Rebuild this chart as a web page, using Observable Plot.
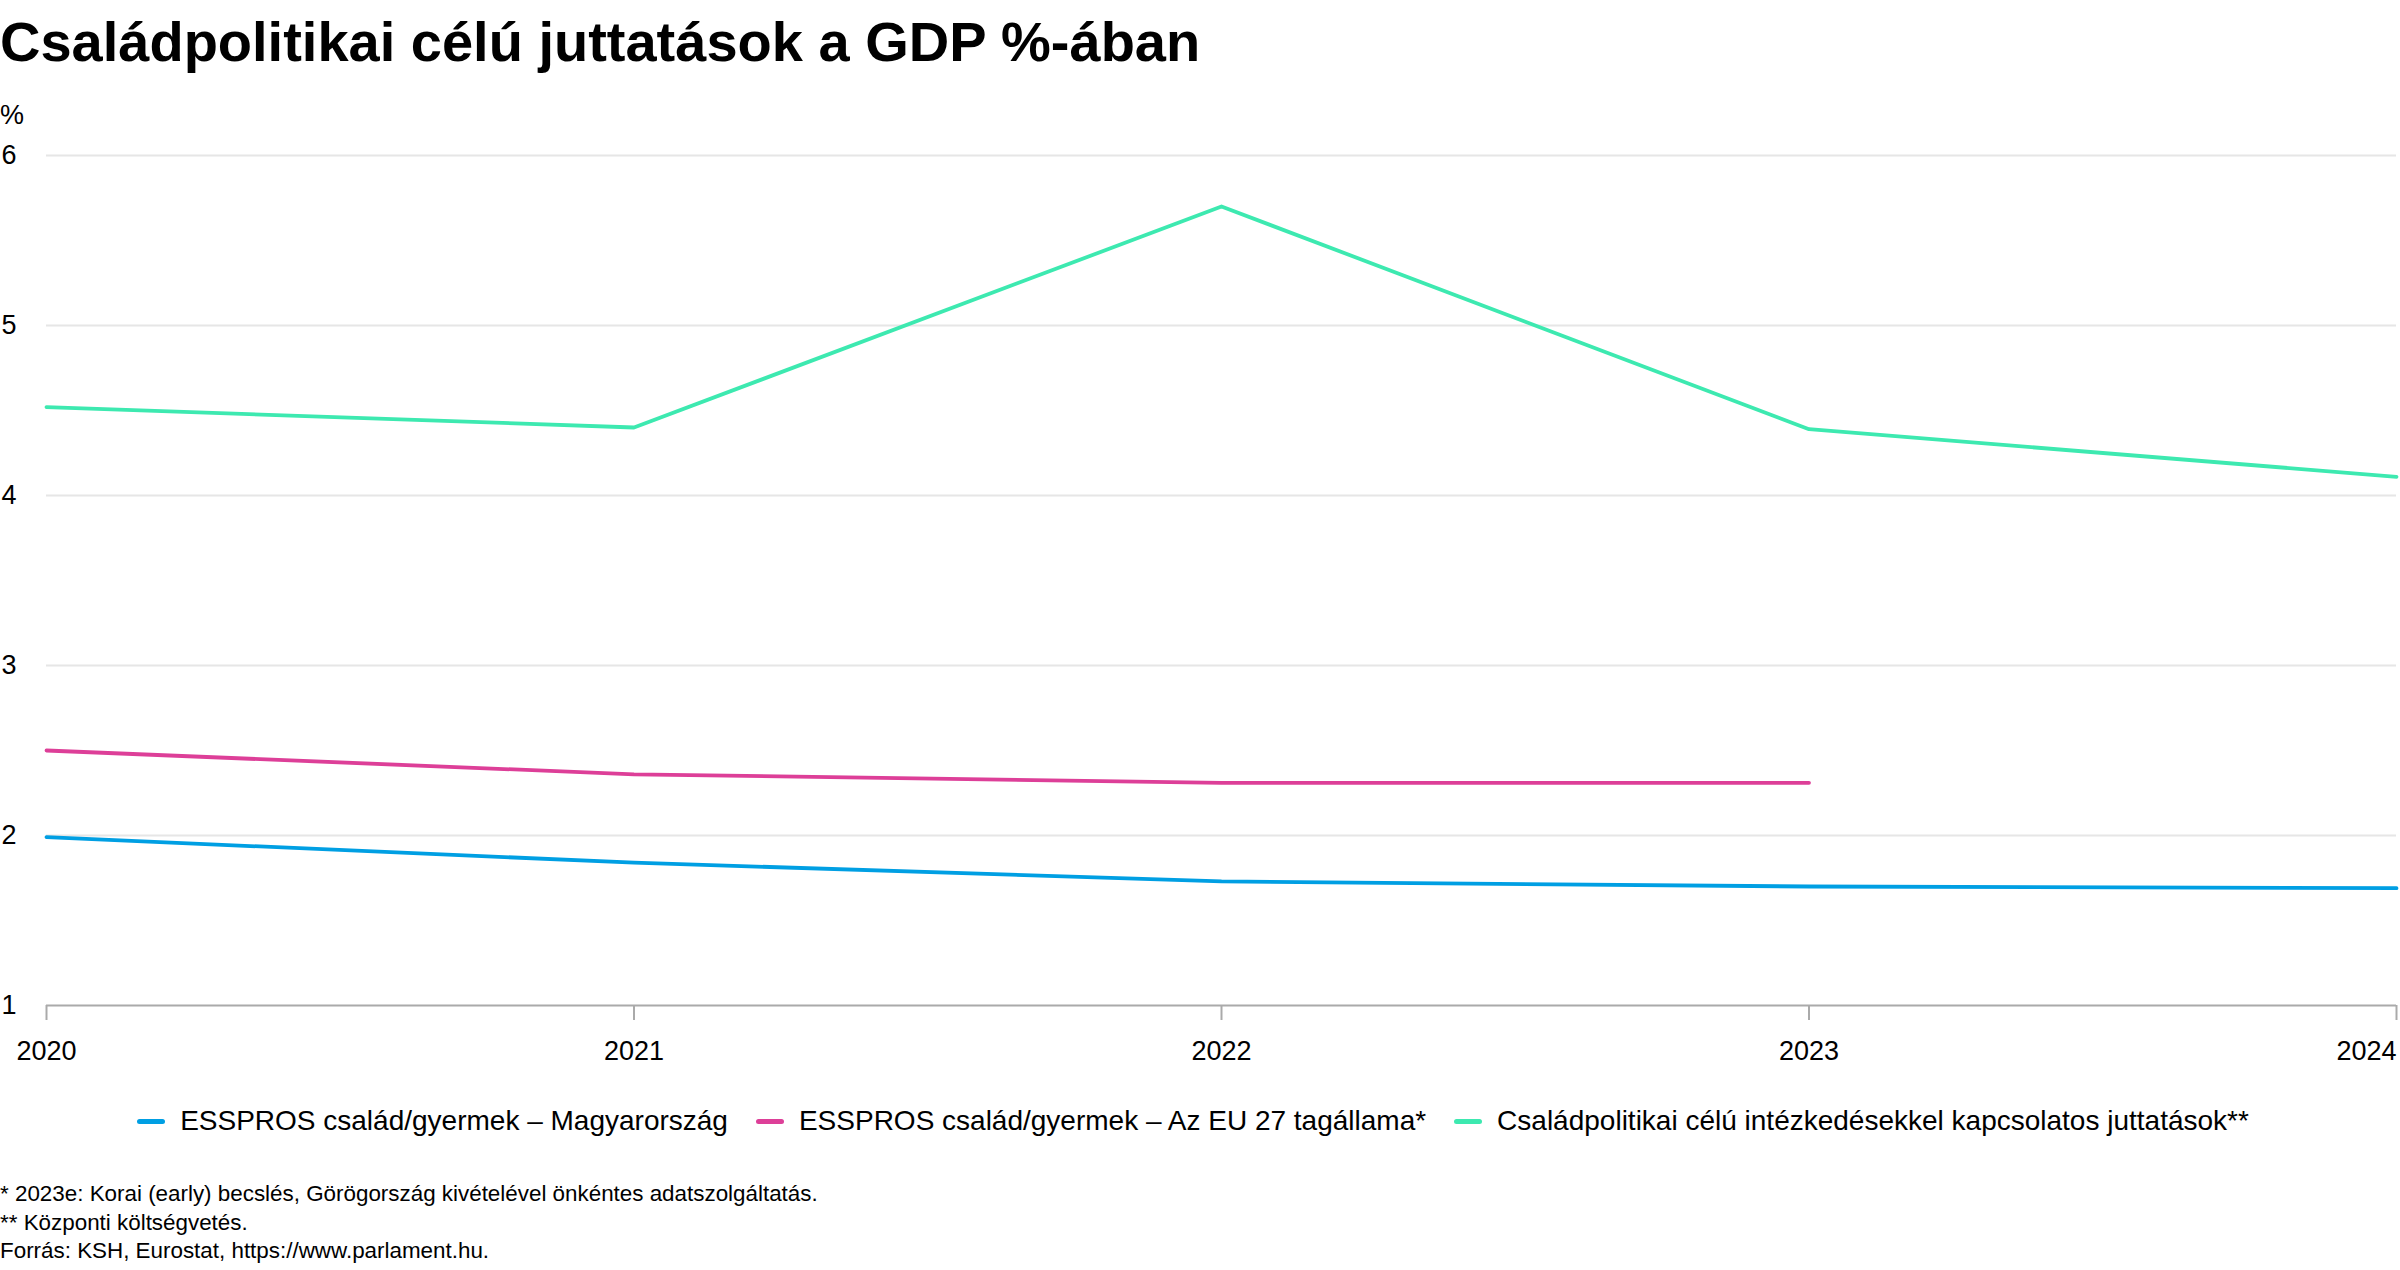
<!DOCTYPE html>
<html lang="hu">
<head>
<meta charset="utf-8">
<script src="https://cdn.jsdelivr.net/npm/d3@7"></script>
<script src="https://cdn.jsdelivr.net/npm/@observablehq/plot@0.6"></script>
<style>
  html, body { margin: 0; padding: 0; background: #fff; }
  body { width: 2400px; font-family: "Liberation Sans", Arial, sans-serif; color: #000; }
  #title { font-size: 56px; font-weight: bold; line-height: 64px; padding-top: 10px; height: 64px; white-space: nowrap; }
  #unit { font-size: 27px; line-height: 30px; height: 30px; margin-top: 26px; }
  #chart svg { display: block; }
  #legend { display: flex; justify-content: center; align-items: center; gap: 28px; font-size: 28px; line-height: 32px; height: 32px; margin-top: 30px; padding-right: 14px; }
  .item { display: flex; align-items: center; gap: 15px; white-space: nowrap; }
  .sw { width: 28px; height: 5px; border-radius: 3px; display: inline-block; }
  #notes { font-size: 22.4px; line-height: 28.5px; margin-top: 43px; }
</style>
</head>
<body>
<div id="title"></div>
<div id="unit"></div>
<div id="chart"></div>
<div id="legend"></div>
<div id="notes"></div>
<script>
const titleText = "Családpolitikai célú juttatások a GDP %-ában";
const unitText = "%";
const years = [2020, 2021, 2022, 2023, 2024];
const yTicks = [1, 2, 3, 4, 5, 6];
const seriesNames = [
  "ESSPROS család/gyermek – Magyarország",
  "ESSPROS család/gyermek – Az EU 27 tagállama*",
  "Családpolitikai célú intézkedésekkel kapcsolatos juttatások**"
];
const seriesColors = ["#009fe3", "#dd3f98", "#3de9b0"];
const huValues = [1.99, 1.84, 1.73, 1.70, 1.69];
const euYears = [2020, 2021, 2022, 2023];
const euValues = [2.50, 2.36, 2.31, 2.31];
const cpValues = [4.52, 4.40, 5.70, 4.39, 4.11];
const notes = [
  "* 2023e: Korai (early) becslés, Görögország kivételével önkéntes adatszolgáltatás.",
  "** Központi költségvetés.",
  "Forrás: KSH, Eurostat, https://www.parlament.hu."
];

const data = [
  ...years.map((yr, i) => ({year: yr, value: huValues[i], series: seriesNames[0]})),
  ...euYears.map((yr, i) => ({year: yr, value: euValues[i], series: seriesNames[1]})),
  ...years.map((yr, i) => ({year: yr, value: cpValues[i], series: seriesNames[2]}))
];

document.getElementById("title").textContent = titleText;
document.getElementById("unit").textContent = unitText;

const chart = Plot.plot({
  width: 2400,
  height: 945,
  marginTop: 25,
  marginBottom: 70,
  marginLeft: 46,
  marginRight: 4,
  style: {fontFamily: '"Liberation Sans", Arial, sans-serif', fontSize: "27px", color: "#000", background: "#fff"},
  x: {type: "linear", domain: [2020, 2024]},
  y: {domain: [1, 6]},
  color: {domain: seriesNames, range: seriesColors},
  marks: [
    Plot.gridY(yTicks.slice(1), {stroke: "#e6e6e6", strokeOpacity: 1, strokeWidth: 2}),
    Plot.axisY(yTicks, {tickSize: 0, tickPadding: 45, textAnchor: "start", tickFormat: d => String(d), label: null, fill: "#000"}),
    Plot.ruleY([1], {stroke: "#aaaaaa", strokeWidth: 2}),
    Plot.axisX(years.slice(0, 4), {tickSize: 15, tickPadding: 20, stroke: "#aaaaaa", strokeWidth: 2, tickFormat: d => String(d), label: null, fill: "#000"}),
    Plot.axisX(years.slice(4), {tickSize: 15, tickPadding: 20, stroke: "#aaaaaa", strokeWidth: 2, tickFormat: d => String(d), textAnchor: "end", label: null, fill: "#000"}),
    Plot.line(data, {x: "year", y: "value", z: "series", stroke: "series", strokeWidth: 3.8})
  ]
});
document.getElementById("chart").appendChild(chart);

const legend = document.getElementById("legend");
seriesNames.forEach((name, i) => {
  const item = document.createElement("div");
  item.className = "item";
  const sw = document.createElement("span");
  sw.className = "sw";
  sw.style.background = seriesColors[i];
  const label = document.createElement("span");
  label.textContent = name;
  item.appendChild(sw);
  item.appendChild(label);
  legend.appendChild(item);
});

const notesEl = document.getElementById("notes");
notes.forEach(t => {
  const d = document.createElement("div");
  d.textContent = t;
  notesEl.appendChild(d);
});
</script>
</body>
</html>
